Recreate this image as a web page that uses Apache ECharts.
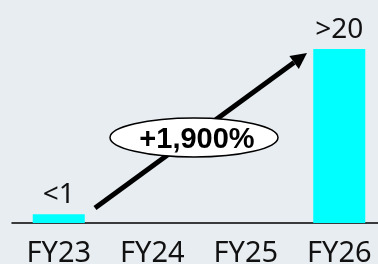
<!DOCTYPE html>
<html>
<head>
<meta charset="utf-8">
<script src="https://cdn.jsdelivr.net/npm/echarts@6/dist/echarts.min.js"></script>
<style>
  html, body { margin: 0; padding: 0; background: #e8edf2; }
  #main { width: 378px; height: 264px; }
</style>
</head>
<body>
<div id="main"></div>
<script>
const years = ['FY23', 'FY24', 'FY25', 'FY26']
const values = [1, null, null, 20]
const valueLabels = ['<1', '', '', '>20']
const growthText = '+1,900%'

const textColor = '#111'
const myChart = echarts.init(document.getElementById('main'))

let option = {
  backgroundColor: '#e8edf2',
  animation: false,
  grid: { left: 12, right: -8, top: 49, bottom: 41, containLabel: false, outerBoundsMode: 'none' },
  xAxis: {
    type: 'category',
    data: years,
    axisLine: { lineStyle: { color: '#000', width: 1.5 } },
    axisTick: { show: false },
    axisLabel: {
      color: textColor,
      fontSize: 29,
      fontFamily: 'Noto Sans',
      margin: 16
    }
  },
  yAxis: {
    type: 'value',
    min: 0,
    max: 20,
    show: false
  },
  series: [
    {
      type: 'bar',
      data: values,
      barWidth: 52,
      itemStyle: { color: '#00ffff' },
      label: {
        show: true,
        position: 'top',
        distance: 5,
        color: textColor,
        fontSize: 28,
        fontFamily: 'Noto Sans',
        formatter: p => valueLabels[p.dataIndex]
      }
    }
  ],
  graphic: {
    elements: [
      {
        type: 'line',
        shape: { x1: 95, y1: 208, x2: 294, y2: 62.4 },
        style: { stroke: '#000', lineWidth: 5 },
        z: 10
      },
      {
        type: 'polygon',
        shape: { points: [[307, 53], [298.8, 68.9], [289.4, 55.9]] },
        style: { fill: '#000' },
        z: 10
      },
      {
        type: 'ellipse',
        shape: { cx: 194, cy: 137.5, rx: 84, ry: 19.5 },
        style: { fill: '#fff', stroke: '#000', lineWidth: 1.5 },
        z: 11
      },
      {
        type: 'text',
        x: 197,
        y: 140,
        style: {
          text: growthText,
          font: 'bold 29px "Liberation Sans"',
          fill: '#000',
          align: 'center',
          verticalAlign: 'middle'
        },
        z: 12
      }
    ]
  }
}
myChart.setOption(option)
</script>
</body>
</html>
